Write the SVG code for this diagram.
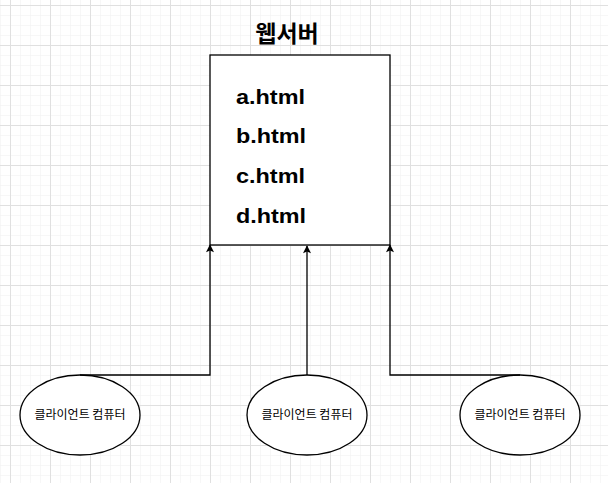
<svg xmlns="http://www.w3.org/2000/svg" width="608" height="483" viewBox="0 0 608 483">
  <defs>
    <pattern id="minor" x="0" y="5" width="10" height="10" patternUnits="userSpaceOnUse">
      <path d="M0 0H10M0 0V10" fill="none" stroke="#f0f0f0" stroke-width="1"/>
    </pattern>
    <pattern id="major" x="10" y="5" width="40" height="40" patternUnits="userSpaceOnUse">
      <path d="M0 0.5H40M0.5 0V40" fill="none" stroke="#e0e0e0" stroke-width="1"/>
    </pattern>
    <marker id="arrow" viewBox="0 0 10 10" refX="9" refY="5" markerWidth="9" markerHeight="8" markerUnits="userSpaceOnUse" orient="auto">
      <path d="M0 0L10 5L0 10L2 5Z" fill="#000"/>
    </marker>
    <style>
      .node { fill: #fff; stroke: #000; stroke-width: 1.3; }
      .file { font-family: "Liberation Sans", Arial, sans-serif; font-weight: bold; font-size: 21px; fill: #000; }
      .title { font-family: "Noto Sans CJK KR", sans-serif; font-weight: bold; font-size: 23px; fill: #000; text-anchor: middle; }
      .label { font-family: "Noto Sans CJK KR", sans-serif; font-size: 12px; fill: #000; text-anchor: middle; }
      .conn { fill: none; stroke: #000; stroke-width: 1.3; marker-end: url(#arrow); }
    </style>
  </defs>
  <rect width="608" height="483" fill="#fff"/>
  <rect width="608" height="483" fill="url(#minor)"/>
  <rect width="608" height="483" fill="url(#major)"/>

  <g id="webserver">
    <rect class="node" x="210" y="55" width="180" height="190"/>
    <text class="title" x="287" y="42">웹서버</text>
    <text class="file" x="236" y="104" textLength="69" lengthAdjust="spacingAndGlyphs">a.html</text>
    <text class="file" x="236" y="143" textLength="70" lengthAdjust="spacingAndGlyphs">b.html</text>
    <text class="file" x="236" y="183" textLength="69" lengthAdjust="spacingAndGlyphs">c.html</text>
    <text class="file" x="236" y="223" textLength="70" lengthAdjust="spacingAndGlyphs">d.html</text>
  </g>

  <g id="client1">
    <ellipse class="node" cx="80" cy="415" rx="60" ry="40"/>
    <text class="label" x="80" y="419">클라이언트 컴퓨터</text>
  </g>
  <g id="client2">
    <ellipse class="node" cx="307" cy="415" rx="60" ry="40"/>
    <text class="label" x="307" y="419">클라이언트 컴퓨터</text>
  </g>
  <g id="client3">
    <ellipse class="node" cx="520" cy="415" rx="60" ry="40"/>
    <text class="label" x="520" y="419">클라이언트 컴퓨터</text>
  </g>

  <g id="connectors">
    <path class="conn" d="M80 375H210V245"/>
    <path class="conn" d="M307 375V246"/>
    <path class="conn" d="M520 375H390V245"/>
  </g>
</svg>
